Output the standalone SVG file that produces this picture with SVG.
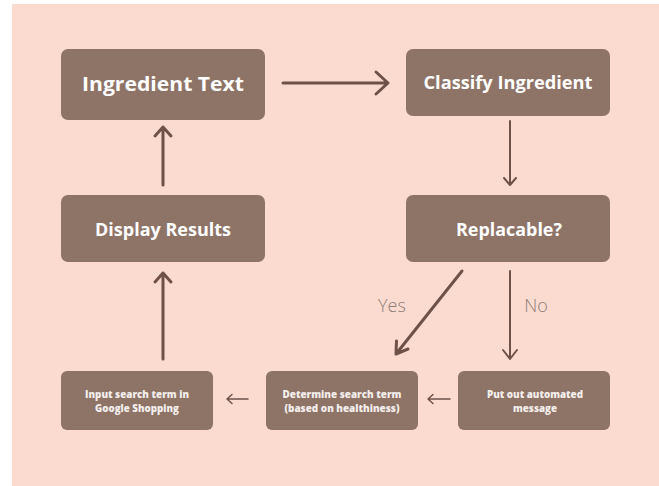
<svg xmlns="http://www.w3.org/2000/svg" width="659" height="486" viewBox="0 0 659 486">
<defs>
<style>
.box{fill:#8E7367;}
.t{font-family:"Open Sans","Liberation Sans",sans-serif;font-weight:bold;fill:#ffffff;text-anchor:middle;}
.s{font-weight:800;font-size:10px;fill:#F4EEEB;}
.lbl{font-family:"Open Sans","Liberation Sans",sans-serif;font-weight:300;fill:#8F7D78;text-anchor:middle;font-size:18px;}
.c{stroke:#6E5249;fill:none;stroke-linecap:round;stroke-linejoin:round;}
</style>
</defs>
<rect x="0" y="0" width="659" height="486" fill="#ffffff"/>
<rect x="12" y="4" width="647" height="482" fill="#FBDBD0"/>
<g id="n1"><rect class="box" x="61" y="49" width="204" height="71" rx="7"/><text class="t" x="163" y="91" font-size="20" textLength="162" lengthAdjust="spacingAndGlyphs">Ingredient Text</text></g>
<g id="n2"><rect class="box" x="406" y="49" width="204" height="67" rx="7"/><text class="t" x="508" y="89" font-size="17" textLength="169" lengthAdjust="spacingAndGlyphs">Classify Ingredient</text></g>
<g id="n3"><rect class="box" x="61" y="195" width="204" height="67" rx="7"/><text class="t" x="163" y="236" font-size="17" textLength="136" lengthAdjust="spacingAndGlyphs">Display Results</text></g>
<g id="n4"><rect class="box" x="406" y="195" width="204" height="67" rx="7"/><text class="t" x="509" y="236" font-size="17" textLength="106" lengthAdjust="spacingAndGlyphs">Replacable?</text></g>
<g id="n5"><rect class="box" x="61" y="371" width="152" height="59" rx="6"/><text class="t s"><tspan x="137" y="398" textLength="104" lengthAdjust="spacingAndGlyphs">Input search term in</tspan><tspan x="137" y="411.5" textLength="84" lengthAdjust="spacingAndGlyphs">Google Shopping</tspan></text></g>
<g id="n6"><rect class="box" x="266" y="371" width="152" height="59" rx="6"/><text class="t s"><tspan x="342" y="398" textLength="119" lengthAdjust="spacingAndGlyphs">Determine search term</tspan><tspan x="342" y="411.5" textLength="115" lengthAdjust="spacingAndGlyphs">(based on healthiness)</tspan></text></g>
<g id="n7"><rect class="box" x="458" y="371" width="152" height="59" rx="6"/><text class="t s"><tspan x="535" y="398" textLength="96" lengthAdjust="spacingAndGlyphs">Put out automated</tspan><tspan x="535" y="411.5" textLength="44" lengthAdjust="spacingAndGlyphs">message</tspan></text></g>
<g id="connectors">
<path class="c" stroke-width="3" d="M283 83H388M376 72L388 83L376 94"/>
<path class="c" stroke-width="2" d="M510 121V185M504 178L510 185L516 178"/>
<path class="c" stroke-width="3" d="M163 185V127M155 136L163 127L171 136"/>
<path class="c" stroke-width="3" d="M163 359V273M155 282L163 273L171 282"/>
<path class="c" stroke-width="3" d="M462 271L396 354M396.5 341L396 354L408 349"/>
<path class="c" stroke-width="2" d="M510 271V359M503 350L510 359L517 350"/>
<path class="c" stroke-width="1.5" d="M248 399H227M232 394.5L227 399L232 403.5"/>
<path class="c" stroke-width="1.5" d="M450 399H428M433 394.5L428 399L433 403.5"/>
<text class="lbl" x="392" y="312">Yes</text>
<text class="lbl" x="536" y="312">No</text>
</g>
</svg>
